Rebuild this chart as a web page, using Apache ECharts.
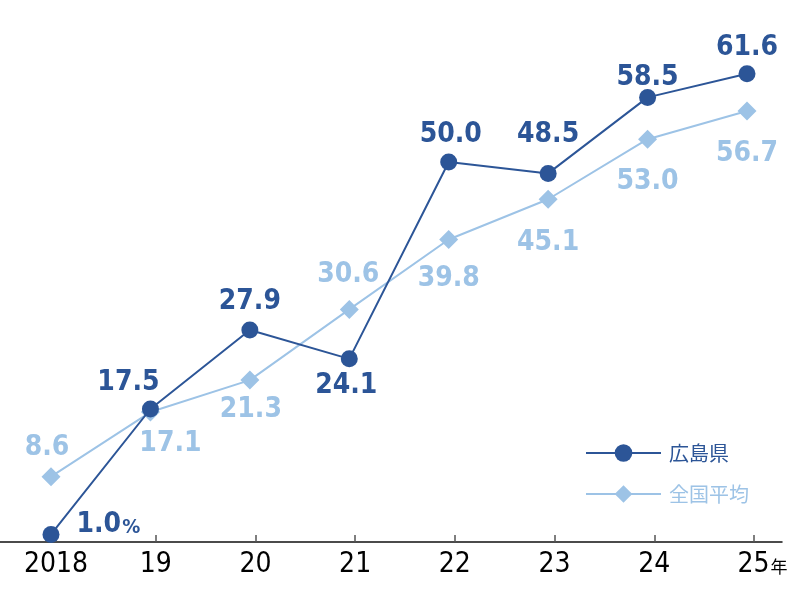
<!DOCTYPE html>
<html><head><meta charset="utf-8">
<script src="https://cdn.jsdelivr.net/npm/echarts@6/dist/echarts.min.js"></script>
<style>html,body{margin:0;padding:0;background:#fff}#c{width:800px;height:605px}</style>
</head><body><div id="c"></div>
<script>
const categories = ['2018', '19', '20', '21', '22', '23', '24', '25'];
const hiroshima = [1.0, 17.5, 27.9, 24.1, 50.0, 48.5, 58.5, 61.6];
const national = [8.6, 17.1, 21.3, 30.6, 39.8, 45.1, 53.0, 56.7];
const seriesNames = ['広島県', '全国平均'];

const DARK = '#2c5597';
const LIGHT = '#9dc3e6';
const NUMFONT = '"DejaVu Sans Condensed","Liberation Sans Narrow",sans-serif';

// label placement per point (style only)
const hiroLabelPos = [
  {position: 'right', offset: [9, -10]},
  {position: 'top', offset: [-22, 4]},
  {position: 'top', offset: [0, 2]},
  {position: 'bottom', offset: [-3, -4]},
  {position: 'top', offset: [2, 3]},
  {position: 'top', offset: [0, -8]},
  {position: 'top', offset: [0, 11]},
  {position: 'top', offset: [0, 4]}
];
const natLabelPos = [
  {position: 'top', offset: [-4, 3]},
  {position: 'bottom', offset: [20, 0]},
  {position: 'bottom', offset: [1, -2]},
  {position: 'top', offset: [-1, -3]},
  {position: 'bottom', offset: [0, 8]},
  {position: 'bottom', offset: [0, 12]},
  {position: 'bottom', offset: [0, 11]},
  {position: 'bottom', offset: [0, 11]}
];

function mkData(vals, pos, color, isHiro) {
  return vals.map((v, i) => ({
    value: v,
    label: Object.assign({
      show: true,
      color: color,
      fontFamily: NUMFONT,
      fontWeight: 'bold',
      fontSize: 28,
      distance: 8,
      formatter: (isHiro && i === 0) ? '{a|' + v.toFixed(1) + '}{b|%}' : v.toFixed(1),
      rich: {
        a: {color: color, fontFamily: NUMFONT, fontWeight: 'bold', fontSize: 28},
        b: {color: color, fontFamily: NUMFONT, fontWeight: 'bold', fontSize: 20, padding: [6, 0, 0, 1]}
      }
    }, pos[i])
  }));
}

const chart = echarts.init(document.getElementById('c'));
chart.setOption({
  animation: false,
  grid: [
    {left: 51, right: 53, top: 10, bottom: 63},
    {left: 56, right: 46, top: 10, bottom: 63},
    {left: 0, right: 18, top: 10, bottom: 63}
  ],
  legend: {
    orient: 'vertical',
    left: 580,
    top: 438,
    itemWidth: 75,
    itemHeight: 22,
    itemGap: 21,
    data: [
      {name: seriesNames[0], textStyle: {color: DARK}},
      {name: seriesNames[1], textStyle: {color: LIGHT}}
    ],
    textStyle: {fontSize: 20, fontFamily: '"Noto Sans CJK JP",sans-serif', padding: [0, 0, 0, 3]}
  },
  xAxis: [
    {gridIndex: 0, type: 'category', data: categories, boundaryGap: false, show: false},
    {gridIndex: 1, type: 'category', data: categories, boundaryGap: false,
      axisLine: {show: false},
      axisTick: {show: true, inside: true, interval: 0, length: 7, lineStyle: {color: '#555', width: 1.5}},
      axisLabel: {
        interval: 0,
        margin: 9,
        color: '#000',
        fontFamily: NUMFONT,
        fontSize: 28,
        formatter: (v, i) => i === categories.length - 1 ? '{p|}{n|' + v + '}{u|年}' : '{n|' + v + '}',
        rich: {
          p: {width: 17},
          n: {fontFamily: NUMFONT, fontSize: 28, color: '#000'},
          u: {fontFamily: '"Noto Sans CJK JP",sans-serif', fontSize: 17, color: '#000', width: 17, padding: [4, 0, 0, 1]}
        }
      }
    },
    {gridIndex: 2, type: 'value', min: 0, max: 1, axisLine: {show: true, lineStyle: {color: '#111', width: 1.5}},
      axisTick: {show: false}, axisLabel: {show: false}, splitLine: {show: false}}
  ],
  yAxis: [
    {gridIndex: 0, type: 'value', min: 0, max: 70, show: false},
    {gridIndex: 1, type: 'value', min: 0, max: 70, show: false},
    {gridIndex: 2, type: 'value', min: 0, max: 70, show: false}
  ],
  series: [
    {
      name: seriesNames[1], type: 'line', xAxisIndex: 0, yAxisIndex: 0,
      data: mkData(national, natLabelPos, LIGHT, false),
      symbol: 'diamond', symbolSize: 19,
      lineStyle: {color: LIGHT, width: 2},
      itemStyle: {color: LIGHT},
      z: 2
    },
    {
      name: seriesNames[0], type: 'line', xAxisIndex: 0, yAxisIndex: 0,
      data: mkData(hiroshima, hiroLabelPos, DARK, true),
      symbol: 'circle', symbolSize: 17,
      lineStyle: {color: DARK, width: 2},
      itemStyle: {color: DARK},
      z: 3
    }
  ]
});
</script></body></html>
